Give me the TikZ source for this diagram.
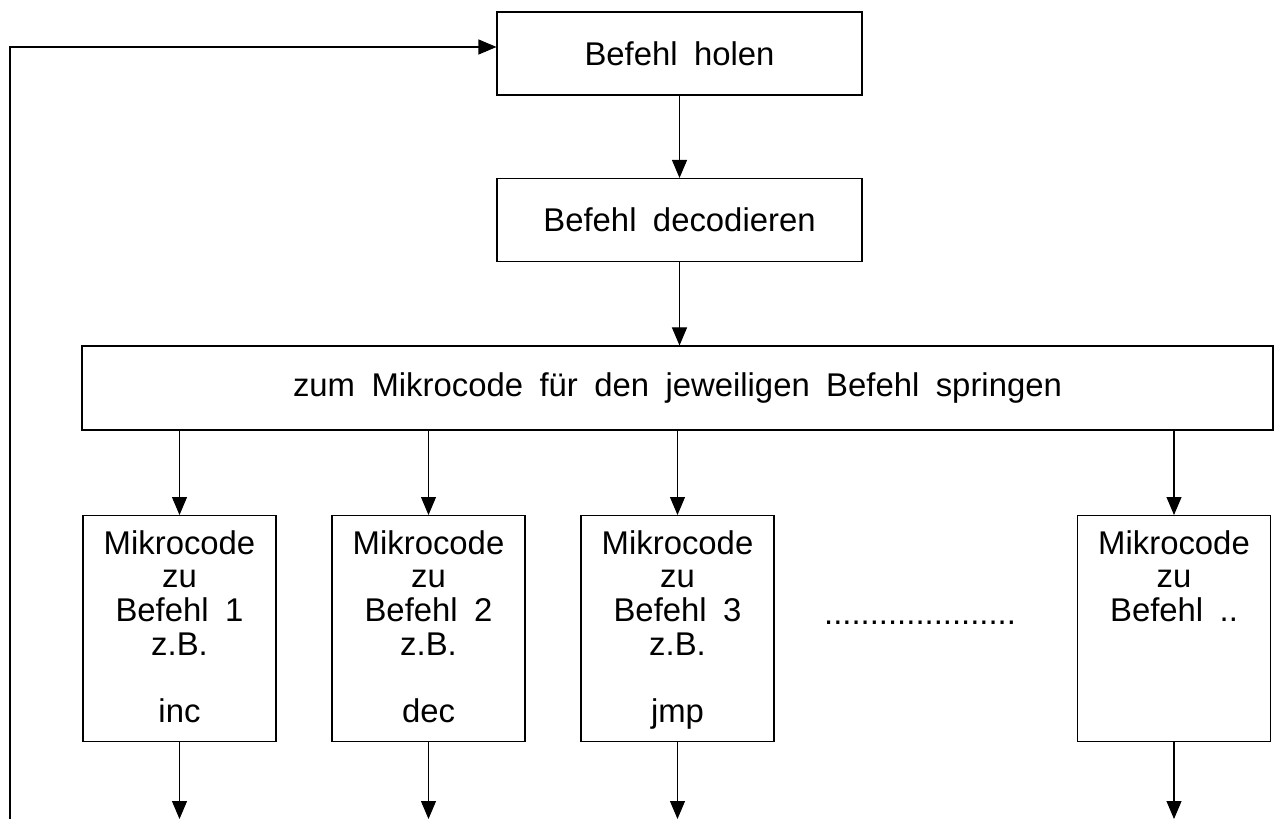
\documentclass[tikz,border=0pt]{standalone}
\usepackage{fontspec}
\setmainfont[WordSpace=1.8]{Liberation Sans}
\usepackage{tikz}
\usetikzlibrary{arrows.meta}
\usetikzlibrary{positioning}

\newcommand{\codetext}[1]{\begin{tabular}[t]{@{}c@{}}#1\end{tabular}}

\begin{document}
\begin{tikzpicture}[x=1cm,y=1cm,
    font=\fontsize{18.7}{19}\selectfont,
    line width=0.6pt,
    >={Triangle[length=0.36cm,width=0.3cm]},
    stepbox/.style={draw, inner sep=0pt, minimum width=7.3cm, minimum height=1.66cm},
    codebox/.style={draw, inner sep=0pt, minimum width=3.86cm,
                    text height=0.78cm, text depth=3.74cm, anchor=north}]
      \useasboundingbox (0,0) rectangle (25.5,-16.38);

      \node[stepbox] (holen) at (13.59,-1.07) {Befehl holen};
      \node[stepbox] (decod) at (13.59,-4.40) {Befehl decodieren};
      \node[stepbox, minimum width=23.82cm, minimum height=1.68cm] (jump) at (13.55,-7.76)
            {zum Mikrocode für den jeweiligen Befehl springen};

      \node[codebox] (mc1) at (3.59,-10.30)  {\codetext{Mikrocode\\zu\\Befehl 1\\z.B.\\ \\inc}};
      \node[codebox] (mc2) at (8.57,-10.30)  {\codetext{Mikrocode\\zu\\Befehl 2\\z.B.\\ \\dec}};
      \node[codebox] (mc3) at (13.55,-10.30) {\codetext{Mikrocode\\zu\\Befehl 3\\z.B.\\ \\jmp}};
      \node[codebox] (mc4) at (23.48,-10.30) {\codetext{Mikrocode\\zu\\Befehl ..}};
      \node (dots) at (18.4,-12.45) {.....................};

      \coordinate (out1) at (3.59,-16.38);
      \coordinate (out2) at (8.57,-16.38);
      \coordinate (out3) at (13.55,-16.38);
      \coordinate (out4) at (23.48,-16.38);
      \coordinate (back) at (0.2,-16.38);

      \draw[->] (holen) -- (decod);
      \draw[->] (decod) -- (decod |- jump.north);
      \draw[->] (mc1 |- jump.south) -- (mc1);
      \draw[->] (mc2 |- jump.south) -- (mc2);
      \draw[->] (mc3 |- jump.south) -- (mc3);
      \draw[->] (mc4 |- jump.south) -- (mc4);
      \draw[->] (mc1.south) -- (out1);
      \draw[->] (mc2.south) -- (out2);
      \draw[->] (mc3.south) -- (out3);
      \draw[->] (mc4.south) -- (out4);
      \draw[->] (back) |- ([yshift=0.13cm]holen.west);
    \end{tikzpicture}
\end{document}
